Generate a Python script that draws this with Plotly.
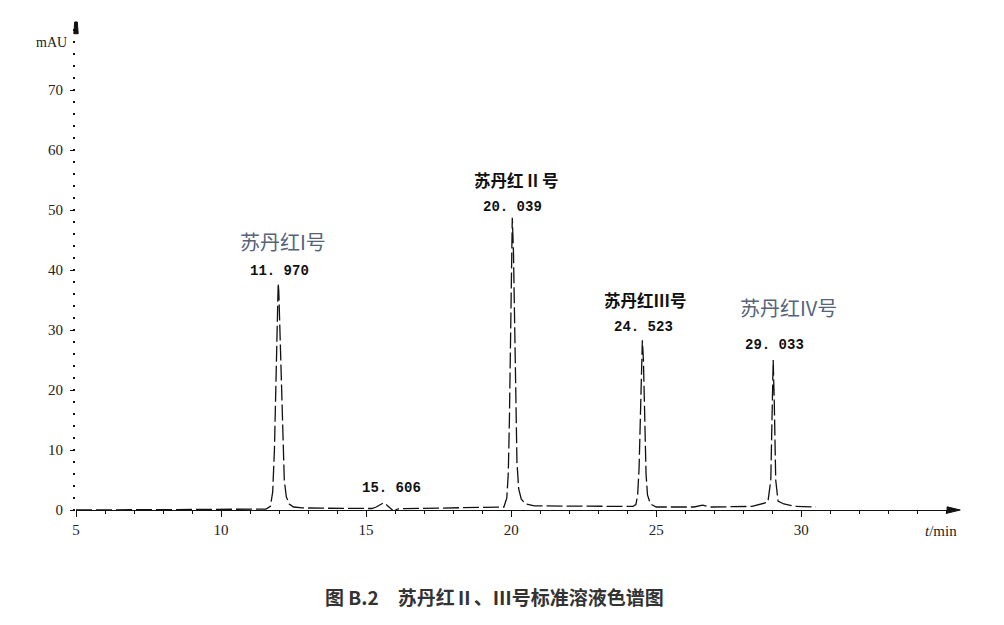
import plotly.graph_objects as go

# Chromatogram: retention time (min) and absorbance (mAU)
time_min = [5.0, 8.0, 10.3, 11.3, 11.55, 11.70, 11.78, 11.84, 11.88, 11.92, 11.95, 11.97,
            11.99, 12.03, 12.08, 12.13, 12.18, 12.25, 12.35, 12.50, 12.80, 13.5, 15.2,
            15.35, 15.48, 15.606, 15.72, 15.85, 15.95, 16.1, 17.5, 19.5, 19.75, 19.85,
            19.90, 19.94, 19.97, 20.00, 20.039, 20.08, 20.12, 20.16, 20.20, 20.26, 20.35,
            20.50, 20.80, 22.0, 24.2, 24.30, 24.36, 24.41, 24.45, 24.49, 24.523, 24.56,
            24.60, 24.65, 24.70, 24.80, 25.0, 26.3, 26.6, 26.9, 28.3, 28.6, 28.85, 28.95,
            29.00, 29.033, 29.07, 29.12, 29.2, 29.4, 29.8, 30.5]
signal_mau = [0.0, 0.05, 0.1, 0.1, 0.15, 0.6, 3.0, 10.0, 20.0, 30.0, 36.0, 37.8,
              36.5, 30.0, 20.0, 11.0, 5.0, 2.2, 1.0, 0.5, 0.35, 0.3, 0.25,
              0.5, 0.9, 1.2, 0.8, 0.2, -0.2, 0.2, 0.3, 0.4, 0.5, 2.0,
              6.0, 15.0, 28.0, 42.0, 48.7, 43.0, 30.0, 17.0, 8.0, 3.5, 1.8,
              1.0, 0.7, 0.65, 0.6, 0.9, 2.5, 7.0, 15.0, 24.0, 28.3, 25.0,
              15.0, 6.0, 2.5, 1.0, 0.5, 0.5, 0.8, 0.5, 0.6, 1.0, 1.3, 5.0,
              18.0, 25.0, 18.0, 5.0, 1.5, 1.0, 0.6, 0.5]

x_ticks = [5, 10, 15, 20, 25, 30]
y_ticks = [0, 10, 20, 30, 40, 50, 60, 70]

peak_rt_labels = ["11. 970", "15. 606", "20. 039", "24. 523", "29. 033"]
peak_rt_pos = [(12.0, 39.8), (15.86, 3.7), (20.03, 50.5), (24.55, 30.5), (29.07, 27.5)]

name_labels = ["苏丹红I号", "苏丹红 II 号", "苏丹红Ⅲ号", "苏丹红IV号"]
name_pos = [(12.14, 44.8), (20.17, 55.0), (24.62, 35.0), (29.55, 33.7)]
name_blue = [True, False, False, True]

caption = "图 B.2　苏丹红Ⅱ、Ⅲ号标准溶液色谱图"

fig = go.Figure()
fig.add_trace(go.Scatter(
    x=time_min, y=signal_mau, mode="lines",
    line=dict(color="#111111", width=1.3, dash="16px,4px"),
    hoverinfo="skip", showlegend=False))

serif = "Liberation Serif, Times New Roman, serif"
mono = "Liberation Mono, Courier New, monospace"
cjk = "Noto Sans CJK SC, sans-serif"

annotations = []
for txt, (x, y) in zip(peak_rt_labels, peak_rt_pos):
    annotations.append(dict(x=x, y=y, text="<b>" + txt + "</b>", showarrow=False,
                            font=dict(family=mono, size=14, color="#111111"),
                            xanchor="center", yanchor="middle"))
for txt, (x, y), blue in zip(name_labels, name_pos, name_blue):
    if blue:
        annotations.append(dict(x=x, y=y, text=txt, showarrow=False,
                                font=dict(family=cjk, size=20, color="#55647a"),
                                xanchor="center", yanchor="middle"))
    else:
        annotations.append(dict(x=x, y=y, text="<b>" + txt + "</b>", showarrow=False,
                                font=dict(family=cjk, size=16.5, color="#111111"),
                                xanchor="center", yanchor="middle"))

annotations.append(dict(xref="paper", x=-0.008, y=78, text="mAU", showarrow=False,
                        font=dict(family=serif, size=14, color="#222222"),
                        xanchor="right", yanchor="middle"))
annotations.append(dict(x=34.8, yref="paper", y=-0.022, text="<i>t</i>/min", showarrow=False,
                        font=dict(family=serif, size=15, color="#222222"),
                        xanchor="center", yanchor="top"))
annotations.append(dict(xref="paper", yref="paper", x=0.476, y=-0.145, text="<b>" + caption + "</b>",
                        showarrow=False, font=dict(family=cjk, size=19, color="#333333"),
                        xanchor="center", yanchor="top"))

shapes = [
    # x-axis arrowhead
    dict(type="path", xref="paper", yref="paper",
         path="M 0.991 -0.0065 L 1.006 0 L 0.991 0.0065 Z",
         fillcolor="#111111", line=dict(color="#111111", width=1)),
    # y-axis arrow at top
    dict(type="path", xref="paper", yref="paper",
         path="M -0.0025 0.972 L 0.0025 0.972 L 0.0015 0.996 L -0.0015 0.996 Z",
         fillcolor="#111111", line=dict(color="#111111", width=1)),
]

fig.update_layout(
    width=996, height=617,
    margin=dict(l=68, r=49, t=12, b=115),
    paper_bgcolor="white", plot_bgcolor="white",
    showlegend=False,
    annotations=annotations,
    shapes=shapes,
    xaxis=dict(range=[5, 35.3], tickvals=x_ticks, showgrid=False, zeroline=False,
               showline=True, linecolor="#111111", linewidth=1.3,
               ticks="outside", ticklen=6, tickcolor="#111111", tickwidth=1,
               minor=dict(dtick=1, ticks="outside", ticklen=3, tickcolor="#111111", tickwidth=1),
               tickfont=dict(family=serif, size=15, color="#222222")),
    yaxis=dict(range=[0, 81.67], tickvals=y_ticks, showgrid=False, zeroline=False,
               showline=False, ticks="outside", ticklen=5, tickcolor="#111111", tickwidth=1,
               ticklabelstandoff=4,
               minor=dict(dtick=2, ticks="outside", ticklen=2, tickcolor="#111111", tickwidth=2),
               tickfont=dict(family=serif, size=15, color="#222222")),
)

fig.write_html("out.html")
